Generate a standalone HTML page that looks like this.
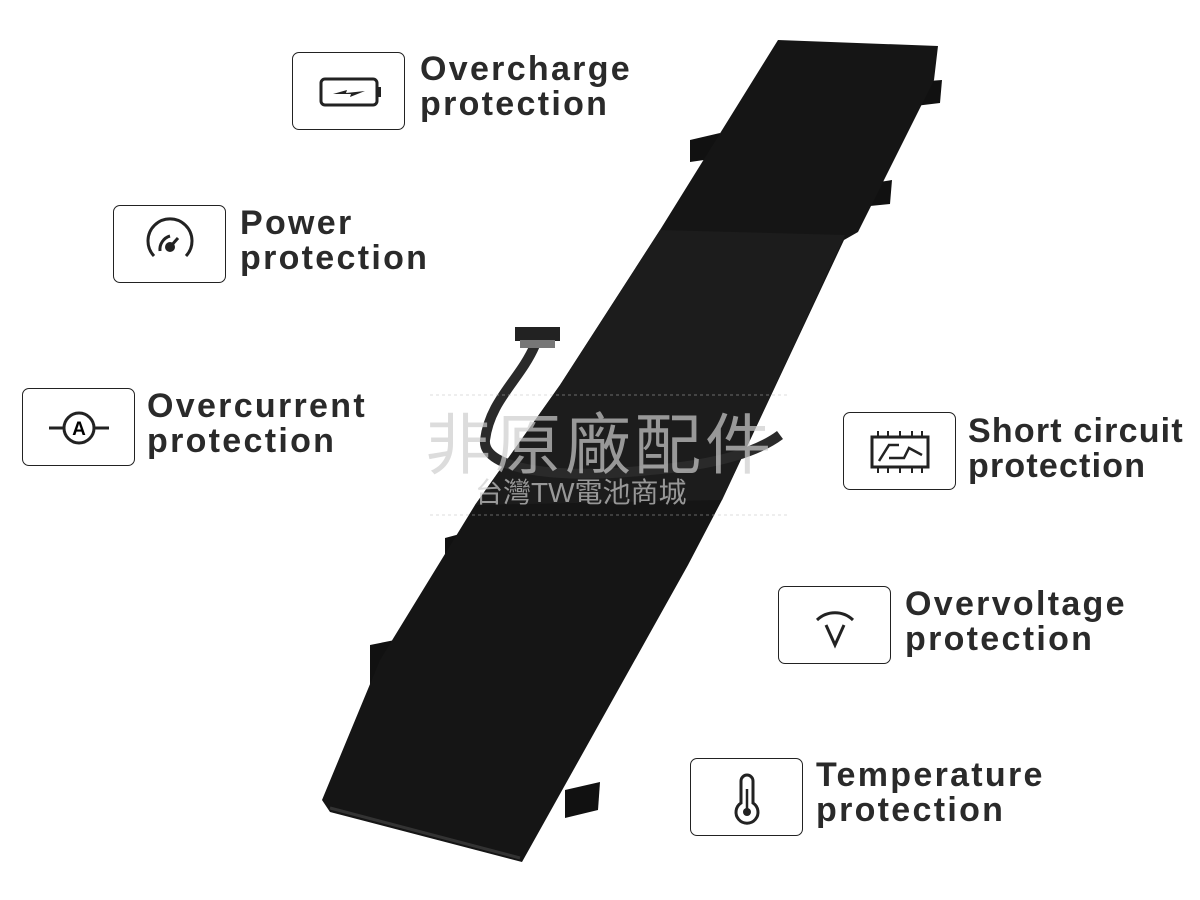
<!DOCTYPE html>
<html><head><meta charset="utf-8"><style>
body{margin:0;width:1200px;height:900px;background:#fff;position:relative;overflow:hidden;font-family:"Liberation Sans","Noto Sans CJK TC",sans-serif}
.box{position:absolute;width:111px;height:76px;border:1.5px solid #222;border-radius:7px;background:#fff}
.box svg{position:absolute;left:0;top:0}
.lbl{position:absolute;font-weight:bold;font-size:34px;line-height:35px;color:#2a2a2a;letter-spacing:2.3px}
.wm{position:absolute;color:rgba(205,205,205,0.7);white-space:nowrap}
</style></head><body>
<svg width="1200" height="900" style="position:absolute;left:0;top:0">
<g fill="#111">
<polygon points="915,82 942,80 940,103 915,106"/>
<polygon points="690,140 720,133 718,158 690,162"/>
<polygon points="860,185 892,180 890,204 860,207"/>
<polygon points="445,538 475,530 470,560 445,568"/>
<polygon points="370,645 410,637 405,685 370,692"/>
<polygon points="565,790 600,782 598,810 565,818"/>
</g>
<polygon fill="#151515" points="778,40 938,46 934,80 858,232 844,240 722,500 688,565 522,862 330,812 322,800 380,660 475,505 560,385 660,230"/>
<polygon fill="#1c1c1c" points="660,230 845,235 722,500 475,505 560,385"/>
<line x1="330" y1="808" x2="520" y2="858" stroke="#333" stroke-width="3"/>
<path d="M535,345 C520,380 490,400 485,440 C482,470 560,480 650,470 C720,465 760,450 780,435" fill="none" stroke="#2a2a2a" stroke-width="10"/>
<rect x="515" y="327" width="45" height="14" fill="#222"/>
<rect x="520" y="340" width="35" height="8" fill="#777"/>
<line x1="430" y1="395" x2="790" y2="395" stroke="#bbb" stroke-dasharray="3,3" stroke-width="0.6"/>
<line x1="430" y1="515" x2="790" y2="515" stroke="#bbb" stroke-dasharray="3,3" stroke-width="0.6"/>
</svg>
<div class="wm" style="left:425px;top:392px;font-size:66px;letter-spacing:4px">非原廠配件</div>
<div class="wm" style="left:475px;top:471px;font-size:28px">台灣TW電池商城</div>

<div class="box" style="left:292px;top:52px"><svg width="111" height="76"><rect x="28" y="26" width="56" height="26" rx="4" fill="none" stroke="#222" stroke-width="3"/><rect x="84" y="34" width="4" height="10" fill="#222"/><path d="M40,41 L54,37 L53,40 L72,38 L57,44 L58,41 Z" fill="#222"/></svg></div>
<div class="lbl" style="left:420px;top:52px">Overcharge<br>protection</div>

<div class="box" style="left:113px;top:205px"><svg width="111" height="76"><path d="M40,50 A22,22 0 1 1 72,50" fill="none" stroke="#222" stroke-width="3"/><path d="M46,45 A14,14 0 0 1 56,30" fill="none" stroke="#222" stroke-width="3"/><circle cx="56" cy="41" r="5" fill="#222"/><line x1="56" y1="41" x2="64" y2="32" stroke="#222" stroke-width="3"/></svg></div>
<div class="lbl" style="left:240px;top:206px">Power<br>protection</div>

<div class="box" style="left:22px;top:388px"><svg width="111" height="76"><circle cx="56" cy="39" r="15" fill="none" stroke="#222" stroke-width="3"/><text x="56" y="46" font-size="19" font-weight="bold" text-anchor="middle" font-family="Liberation Sans">A</text><line x1="26" y1="39" x2="41" y2="39" stroke="#222" stroke-width="3"/><line x1="71" y1="39" x2="86" y2="39" stroke="#222" stroke-width="3"/></svg></div>
<div class="lbl" style="left:147px;top:389px">Overcurrent<br>protection</div>

<div class="box" style="left:843px;top:412px"><svg width="111" height="76"><rect x="28" y="24" width="56" height="30" fill="none" stroke="#222" stroke-width="3"/><path d="M35,48 L45,32 L55,32 M45,45 L60,45 L65,35 L78,42" fill="none" stroke="#222" stroke-width="2.5"/><g stroke="#222" stroke-width="2"><line x1="34" y1="18" x2="34" y2="24"/><line x1="44" y1="18" x2="44" y2="24"/><line x1="56" y1="18" x2="56" y2="24"/><line x1="68" y1="18" x2="68" y2="24"/><line x1="78" y1="18" x2="78" y2="24"/><line x1="34" y1="54" x2="34" y2="60"/><line x1="44" y1="54" x2="44" y2="60"/><line x1="56" y1="54" x2="56" y2="60"/><line x1="68" y1="54" x2="68" y2="60"/><line x1="78" y1="54" x2="78" y2="60"/></g></svg></div>
<div class="lbl" style="left:968px;top:414px;letter-spacing:1.2px">Short circuit<br>protection</div>

<div class="box" style="left:778px;top:586px"><svg width="111" height="76"><path d="M38,33 A26,26 0 0 1 74,33" fill="none" stroke="#222" stroke-width="3"/><path d="M47,38 L56,58 L65,38" fill="none" stroke="#222" stroke-width="3"/></svg></div>
<div class="lbl" style="left:905px;top:587px">Overvoltage<br>protection</div>

<div class="box" style="left:690px;top:758px"><svg width="111" height="76"><path d="M50,22 A6,6 0 0 1 62,22 L62,44 A11,11 0 1 1 50,44 Z" fill="none" stroke="#222" stroke-width="3"/><circle cx="56" cy="53" r="4" fill="#222"/><line x1="56" y1="30" x2="56" y2="50" stroke="#222" stroke-width="2.5"/></svg></div>
<div class="lbl" style="left:816px;top:758px">Temperature<br>protection</div>
</body></html>
